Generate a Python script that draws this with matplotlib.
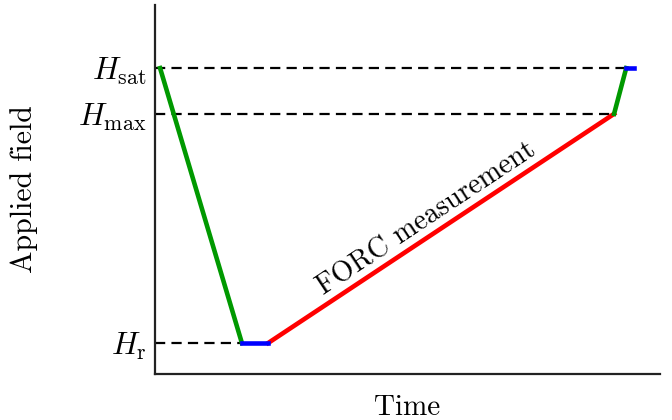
import matplotlib
matplotlib.use("Agg")
import matplotlib.pyplot as plt
import numpy as np

plt.rcParams['font.family'] = 'serif'
plt.rcParams['font.serif'] = ['cmr10', 'DejaVu Serif']
plt.rcParams['mathtext.fontset'] = 'cm'
plt.rcParams['axes.unicode_minus'] = False

# Field levels (arbitrary units)
h_sat = 8.29
h_max = 7.05
h_r = 0.84
field_levels = [h_r, h_max, h_sat]
field_labels = [r'$H_{\rm r}$', r'$H_{\rm max}$', r'$H_{\rm sat}$']

# Time points of each stage of the protocol
t_start = 0.1
t_reach_r = 1.72
t_hold_r = 2.24
t_reach_max = 9.09
t_reach_sat = 9.33
t_hold_sat = 9.49

fig = plt.figure(figsize=(6.72, 4.2), dpi=100)
ax = fig.add_axes([0.2307, 0.1095, 0.7515, 0.8786])

dash = dict(color='black', lw=1.6, dashes=(4.6, 2.8), zorder=1)
ax.plot([0, t_reach_sat], [h_sat, h_sat], **dash)
ax.plot([0, t_reach_max], [h_max, h_max], **dash)
ax.plot([0, t_reach_r], [h_r, h_r], **dash)

lw = 3.3
ax.plot([t_start, t_reach_r], [h_sat, h_r], color='#009900', lw=lw, zorder=2)
ax.plot([t_reach_r, t_hold_r], [h_r, h_r], color='blue', lw=lw, zorder=3)
ax.plot([t_hold_r, t_reach_max], [h_r, h_max], color='red', lw=lw, zorder=2)
ax.plot([t_reach_max, t_reach_sat], [h_max, h_sat], color='#009900', lw=lw, zorder=2)
ax.plot([t_reach_sat, t_hold_sat], [h_sat, h_sat], color='blue', lw=lw, zorder=3)

ax.set_xlim(0, 10)
ax.set_ylim(0, 10)

# label along the measurement branch
p0 = ax.transData.transform((t_hold_r, h_r))
p1 = ax.transData.transform((t_reach_max, h_max))
angle = np.degrees(np.arctan2(p1[1] - p0[1], p1[0] - p0[0]))
ax.text(5.38, 4.2, 'FORC measurement', rotation=angle, rotation_mode='anchor',
        ha='center', va='center', fontsize=20.5)

ax.set_yticks(field_levels)
ax.set_yticklabels(field_labels, fontsize=22.5)
ax.set_xticks([])
ax.tick_params(axis='y', length=0, pad=6)

for side in ['top', 'right']:
    ax.spines[side].set_visible(False)
for side in ['left', 'bottom']:
    ax.spines[side].set_linewidth(1.6)
    ax.spines[side].set_color('#222222')

ax.set_xlabel('Time', fontsize=21, labelpad=15)
ax.set_ylabel('Applied field', fontsize=21.5, labelpad=29)

fig.savefig('out.png', dpi=100)
